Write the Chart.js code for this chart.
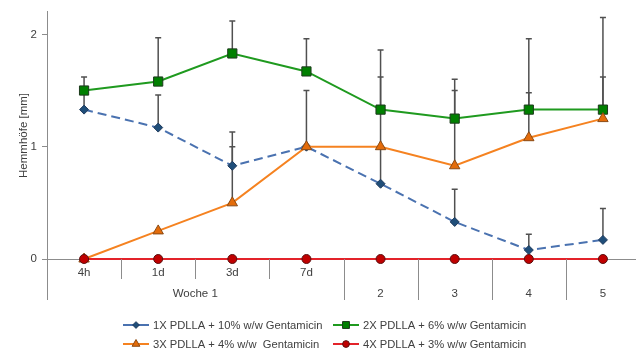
<!DOCTYPE html>
<html>
<head>
<meta charset="utf-8">
<script src="https://cdn.jsdelivr.net/npm/chart.js@4.4.1/dist/chart.umd.min.js"></script>
<style>
  html, body { margin: 0; padding: 0; background: #fff; overflow: hidden; }
  #wrap { width: 640px; height: 354px; }
</style>
</head>
<body>
<div id="wrap"><canvas id="chart" width="640" height="354"></canvas></div>
<script>
// Zeitpunkte: erste Woche in Tagen, danach Wochen
const dayLabels = ['4h', '1d', '3d', '7d'];
const weekLabels = ['2', '3', '4', '5'];
const groupLabel = 'Woche 1';

const seriesNames = [
  '1X PDLLA + 10% w/w Gentamicin',
  '2X PDLLA + 6% w/w Gentamicin',
  '3X PDLLA + 4% w/w  Gentamicin',
  '4X PDLLA + 3% w/w Gentamicin'
];

// Hemmhöfe [mm], Mittelwerte
const pdlla1x = [1.33, 1.17, 0.83, 1.0, 0.67, 0.33, 0.08, 0.17];
const pdlla2x = [1.5, 1.58, 1.83, 1.67, 1.33, 1.25, 1.33, 1.33];
const pdlla3x = [0, 0.25, 0.5, 1.0, 1.0, 0.83, 1.08, 1.25];
const pdlla4x = [0, 0, 0, 0, 0, 0, 0, 0];

// Standardabweichung (nur positiv dargestellt)
const err1x = [0.17, 0.29, 0.3, 0, 0.33, 0.29, 0.14, 0.28];
const err2x = [0.12, 0.39, 0.29, 0.29, 0.53, 0.35, 0.63, 0.82];
const err3x = [0, 0, 0.5, 0.5, 0.62, 0.67, 0.4, 0.37];
const err4x = [0, 0, 0, 0, 0, 0, 0, 0];

const yTicks = [0, 1, 2];

const labels = dayLabels.map(d => [d, '']).concat(weekLabels.map(w => ['', w]));

const styles = [
  { line: '#4a72b0', fill: '#1f4e79', border: '#1f3a5c', point: 'rectRot', r: 4.5, dash: [9, 5], err: err1x },
  { line: '#1f9a1f', fill: '#008000', border: '#1c3a1c', point: 'rect', r: 6.5, dash: [], err: err2x },
  { line: '#f58220', fill: '#e46c0a', border: '#8a4a14', point: 'triangle', r: 6, dash: [], err: err3x },
  { line: '#e3232a', fill: '#c00000', border: '#5a1010', point: 'circle', r: 4.5, dash: [], err: err4x }
];
const values = [pdlla1x, pdlla2x, pdlla3x, pdlla4x];

const FONT = 'Liberation Sans, Arial, sans-serif';
const AXIS = '#8c8c8c';
const TEXT = '#404040';

// Fehlerbalken, Kategorietrenner und Legende
const extras = {
  id: 'extras',
  beforeDatasetsDraw(chart) {
    const ctx = chart.ctx, x = chart.scales.x, y = chart.scales.y;
    ctx.save();
    ctx.strokeStyle = '#505050';
    ctx.lineWidth = 1.5;
    values.forEach((vals, s) => {
      vals.forEach((v, i) => {
        const e = styles[s].err[i];
        if (!e) return;
        const px = x.getPixelForValue(i);
        const y0 = y.getPixelForValue(v);
        const y1 = y.getPixelForValue(v + e);
        ctx.beginPath();
        ctx.moveTo(px, y0); ctx.lineTo(px, y1);
        ctx.moveTo(px - 3, y1); ctx.lineTo(px + 3, y1);
        ctx.stroke();
      });
    });
    ctx.restore();
  },
  afterDraw(chart) {
    const ctx = chart.ctx, x = chart.scales.x, area = chart.chartArea;
    const n = labels.length;
    const step = x.getPixelForValue(1) - x.getPixelForValue(0);
    ctx.save();
    ctx.strokeStyle = AXIS;
    ctx.lineWidth = 1;
    // y-Achse nach unten verlängert
    ctx.beginPath();
    ctx.moveTo(area.left + 0.5, area.bottom);
    ctx.lineTo(area.left + 0.5, area.bottom + 41);
    ctx.stroke();
    for (let i = 0; i < n - 1; i++) {
      const bx = Math.round(x.getPixelForValue(i) + step / 2) + 0.5;
      const len = i < dayLabels.length - 1 ? 20 : 41;
      ctx.beginPath();
      ctx.moveTo(bx, area.bottom);
      ctx.lineTo(bx, area.bottom + len);
      ctx.stroke();
    }
    // Gruppenbeschriftung
    ctx.fillStyle = TEXT;
    ctx.font = '11.5px ' + FONT;
    ctx.textAlign = 'center';
    ctx.textBaseline = 'middle';
    const gx = (x.getPixelForValue(0) + x.getPixelForValue(dayLabels.length - 1)) / 2;
    ctx.fillText(groupLabel, gx, area.bottom + 35);

    // Legende
    const cols = [123, 333];
    const rows = [325, 344];
    ctx.font = '11.2px ' + FONT;
    ctx.textAlign = 'left';
    seriesNames.forEach((name, s) => {
      const st = styles[s];
      const lx = cols[s % 2], ly = rows[Math.floor(s / 2)];
      ctx.strokeStyle = st.line;
      ctx.lineWidth = 2;
      ctx.setLineDash([]);
      ctx.beginPath();
      ctx.moveTo(lx, ly); ctx.lineTo(lx + 26, ly);
      ctx.stroke();
      ctx.fillStyle = st.fill;
      ctx.strokeStyle = st.border;
      ctx.lineWidth = 1;
      Chart.helpers.drawPoint(ctx, { pointStyle: st.point, radius: st.r * 0.75, borderWidth: 1 }, lx + 13, ly);
      ctx.fillStyle = TEXT;
      ctx.fillText(name, lx + 30, ly + 0.5);
    });
    ctx.restore();
  }
};

new Chart(document.getElementById('chart'), {
  type: 'line',
  data: {
    labels: labels,
    datasets: values.map((vals, s) => ({
      label: seriesNames[s],
      data: vals,
      borderColor: styles[s].line,
      borderWidth: 2,
      borderDash: styles[s].dash,
      pointStyle: styles[s].point,
      pointRadius: styles[s].r,
      pointBackgroundColor: styles[s].fill,
      pointBorderColor: styles[s].border,
      pointBorderWidth: 1,
      tension: 0,
      fill: false,
      clip: false,
      order: 3 - s
    }))
  },
  options: {
    responsive: false,
    animation: false,
    layout: { autoPadding: false, padding: { top: 10, right: 0, left: 0, bottom: 0 } },
    plugins: { legend: { display: false }, tooltip: { enabled: false } },
    scales: {
      x: {
        offset: true,
        grid: { display: false, drawTicks: false },
        border: { display: true, color: AXIS, width: 1 },
        ticks: {
          color: TEXT,
          padding: 3,
          autoSkip: false,
          maxRotation: 0,
          font: { family: FONT, size: 11.5, lineHeight: '21px' }
        },
        afterFit(scale) {
          scale.height = 95;
          scale.paddingLeft = 0;
          scale.paddingRight = 0;
        }
      },
      y: {
        min: 0,
        max: 2.2,
        afterBuildTicks(scale) { scale.ticks = yTicks.map(v => ({ value: v })); },
        grid: { drawOnChartArea: false, drawTicks: true, tickLength: 5, color: AXIS },
        border: { display: true, color: AXIS, width: 1 },
        ticks: { color: TEXT, padding: 5, font: { family: FONT, size: 11.5 } },
        title: {
          display: true,
          text: 'Hemmhöfe [mm]',
          color: TEXT,
          padding: { top: 17, bottom: 0 },
          font: { family: FONT, size: 11.5 }
        },
        afterFit(scale) { scale.width = 47; }
      }
    }
  },
  plugins: [extras]
});
</script>
</body>
</html>
